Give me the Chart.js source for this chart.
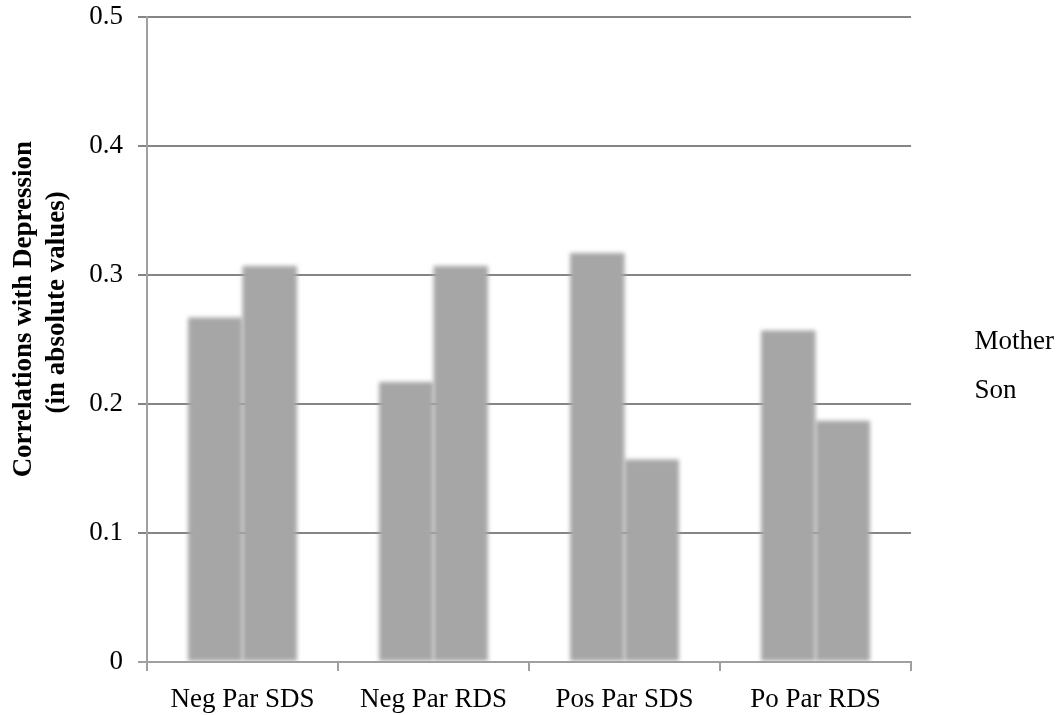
<!DOCTYPE html>
<html>
<head>
<meta charset="utf-8">
<script src="https://cdn.jsdelivr.net/npm/chart.js@4"></script>
<style>
  body { margin: 0; background: #fff; }
  #box { width: 1064px; height: 715px; }
</style>
</head>
<body>
<div id="box"><canvas id="grafico"></canvas></div>
<script>
const categorias = ["Neg Par SDS", "Neg Par RDS", "Pos Par SDS", "Po Par RDS"];
const valoresMother = [0.267, 0.217, 0.317, 0.257];
const valoresSon = [0.307, 0.307, 0.157, 0.187];
const ticksY = [0, 0.1, 0.2, 0.3, 0.4, 0.5];

// borra as barras como na figura original
const borrar = {
  id: "borrar",
  beforeDatasetsDraw(chart) {
    chart.ctx.save();
    chart.ctx.filter = "blur(2px)";
  },
  afterDatasetsDraw(chart) {
    chart.ctx.restore();
  },
};

const fonte = "'Liberation Serif', 'Times New Roman', serif";

new Chart(document.getElementById("grafico").getContext("2d"), {
  type: "bar",
  data: {
    labels: categorias,
    datasets: [
      {
        label: "Mother",
        data: valoresMother,
        backgroundColor: "#a6a6a6",
        borderWidth: 0,
      },
      {
        label: "Son",
        data: valoresSon,
        backgroundColor: "#a6a6a6",
        borderWidth: 0,
      },
    ],
  },
  plugins: [borrar],
  options: {
    animation: false,
    responsive: true,
    maintainAspectRatio: false,
    layout: {
      padding: { left: 5, top: 17, right: 0, bottom: 0 },
    },
    datasets: {
      bar: { categoryPercentage: 0.57, barPercentage: 1 },
    },
    plugins: {
      tooltip: { enabled: false },
      legend: {
        position: "right",
        labels: {
          boxWidth: 28,
          padding: 22,
          color: "#000",
          font: { family: fonte, size: 27 },
          // legenda sem quadradinho de cor
          generateLabels(chart) {
            return Chart.defaults.plugins.legend.labels
              .generateLabels(chart)
              .map((l) => ({ ...l, fillStyle: "rgba(0,0,0,0)", strokeStyle: "rgba(0,0,0,0)", lineWidth: 0 }));
          },
        },
      },
    },
    scales: {
      x: {
        grid: {
          display: true,
          drawOnChartArea: false,
          drawTicks: true,
          tickLength: 9,
          color: "#a0a0a0",
          lineWidth: 2,
        },
        border: { display: true, color: "#a0a0a0", width: 2 },
        ticks: {
          color: "#000",
          padding: 13,
          font: { family: fonte, size: 27 },
        },
        afterFit(scale) {
          scale.height = 53;
        },
      },
      y: {
        z: 1,
        min: 0,
        max: 0.5,
        afterBuildTicks(scale) {
          scale.ticks = ticksY.map((v) => ({ value: v }));
        },
        grid: {
          tickLength: 9,
          lineWidth: 2,
          color: (c) => (c.tick && c.tick.value === 0 ? "#a0a0a0" : "#858585"),
        },
        border: { display: true, color: "#a0a0a0", width: 2 },
        ticks: {
          color: "#000",
          padding: 15,
          font: { family: fonte, size: 27 },
          callback: (v) => (v === 0 ? "0" : v.toFixed(1)),
        },
        title: {
          display: true,
          text: ["         Correlations with Depression", "           (in absolute values)"],
          color: "#000",
          padding: { top: 3, bottom: 0 },
          font: { family: fonte, size: 27, weight: "bold", lineHeight: 1.2 },
        },
        afterFit(scale) {
          scale.width = 142;
          scale.paddingTop = 0;
          scale.paddingBottom = 0;
        },
      },
    },
  },
});
</script>
</body>
</html>
